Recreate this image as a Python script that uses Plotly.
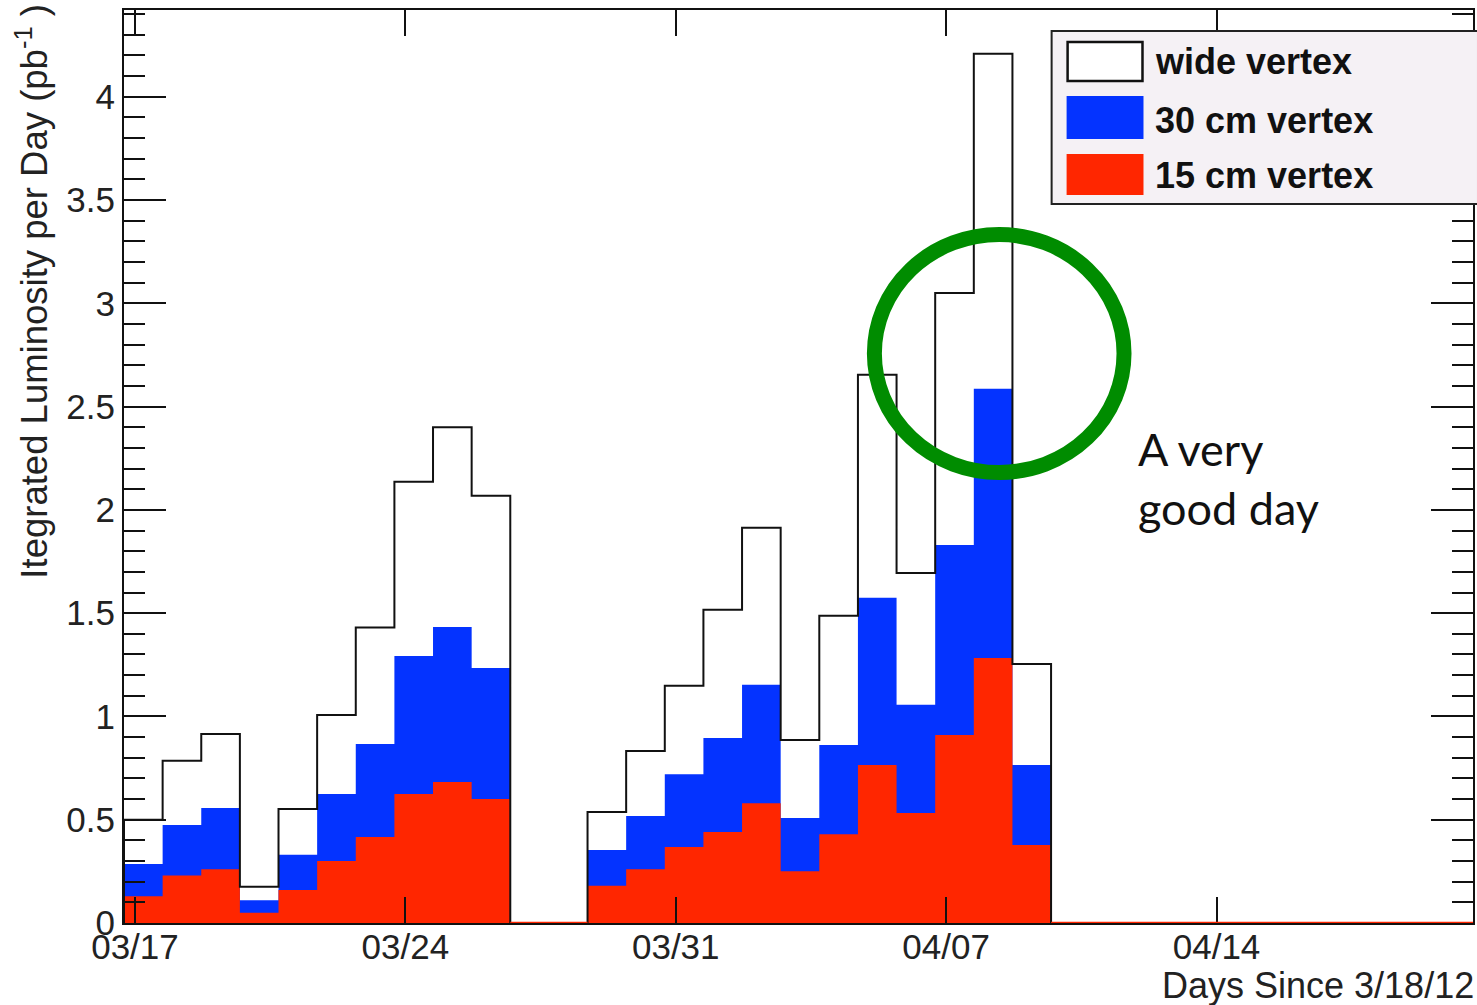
import pandas as pd
import plotly.graph_objects as go

# Daily integrated luminosity (pb^-1), one bin per day starting 03/16 17:11
bin_start = "2012-03-16 17:11"
wide_vertex = [0.50, 0.785, 0.915, 0.175, 0.552, 1.007, 1.43, 2.136, 2.40, 2.068,
               0.0, 0.0, 0.537, 0.833, 1.148, 1.516, 1.913, 0.886, 1.487, 2.654,
               1.695, 3.05, 4.208, 1.254]
vertex_30cm = [0.286, 0.475, 0.557, 0.11, 0.33, 0.625, 0.867, 1.293, 1.433, 1.235,
               0.0, 0.0, 0.353, 0.518, 0.72, 0.896, 1.153, 0.508, 0.862, 1.574,
               1.056, 1.83, 2.586, 0.765]
vertex_15cm = [0.13, 0.23, 0.26, 0.05, 0.16, 0.30, 0.416, 0.625, 0.683, 0.60,
               0.0, 0.0, 0.18, 0.26, 0.368, 0.44, 0.58, 0.25, 0.43, 0.765,
               0.533, 0.91, 1.283, 0.378]
n_empty_tail = 11  # empty days after the last filled bin

tick_dates = ["2012-03-17", "2012-03-24", "2012-03-31", "2012-04-07", "2012-04-14"]
tick_labels = ["03/17", "03/24", "03/31", "04/07", "04/14"]
y_ticks = [0, 0.5, 1, 1.5, 2, 2.5, 3, 3.5, 4]

x_range = ["2012-03-16 17:11", "2012-04-20 15:20"]
y_range = [0, 4.42]

WIDE_LINE = "#111111"
BLUE = "#0433ff"
RED = "#ff2600"
GREEN = "#008c00"
FONT = "Liberation Sans, Arial, sans-serif"

wide = wide_vertex + [0.0] * n_empty_tail
blue = vertex_30cm + [0.0] * n_empty_tail
red = vertex_15cm + [0.0] * n_empty_tail
edges = pd.date_range(bin_start, periods=len(wide) + 1, freq="D")


def step(values):
    """Histogram outline: left edges plus the final right edge, held at the last value."""
    n = len(values)
    return list(edges[:n + 1]), list(values) + [values[-1]]


fig = go.Figure()

# filled histograms (blue under red)
for vals, col in [(blue, BLUE), (red, RED)]:
    xs, ys = step(vals)
    fig.add_trace(go.Scatter(x=xs, y=ys, mode="lines", line=dict(shape="hv", width=0, color=col),
                             fill="tozeroy", fillcolor=col, showlegend=False, hoverinfo="skip"))

# wide vertex outline drawn on top
n_filled = len(wide_vertex)
xs, ys = step(wide_vertex)
xs = [edges[0]] + xs + [edges[n_filled]]
ys = [0.0] + ys + [0.0]
fig.add_trace(go.Scatter(x=xs, y=ys, mode="lines", line=dict(shape="hv", width=2, color=WIDE_LINE),
                         showlegend=False, hoverinfo="skip"))

shapes = []
# red histogram baseline wherever the 15 cm bins are empty
i = 0
while i < len(red):
    if red[i] == 0:
        j = i
        while j < len(red) and red[j] == 0:
            j += 1
        shapes.append(dict(type="line", xref="x", yref="y", x0=edges[i], x1=edges[j], y0=0, y1=0,
                           line=dict(color=RED, width=2.5), layer="above"))
        i = j
    else:
        i += 1

L, T, W, H = 124, 10, 1351, 913


def px(x):
    return (x - L) / W


def py(y):
    return (T + H - y) / H


# legend panel
shapes.append(dict(type="rect", xref="paper", yref="paper", x0=px(1053), x1=px(1480), y0=py(204), y1=py(31),
                   fillcolor="#f5f1f5", line=dict(color="#222222", width=2), layer="above"))
shapes.append(dict(type="rect", xref="paper", yref="paper", x0=px(1069), x1=px(1144), y0=py(81), y1=py(42),
                   fillcolor="white", line=dict(color="#111111", width=2.5), layer="above"))
shapes.append(dict(type="rect", xref="paper", yref="paper", x0=px(1068), x1=px(1145), y0=py(139), y1=py(96),
                   fillcolor=BLUE, line=dict(width=0), layer="above"))
shapes.append(dict(type="rect", xref="paper", yref="paper", x0=px(1068), x1=px(1145), y0=py(195), y1=py(154),
                   fillcolor=RED, line=dict(width=0), layer="above"))

# highlight ring
shapes.append(dict(type="circle", xref="paper", yref="paper", x0=px(875.5), x1=px(1125.5),
                   y0=py(472.5), y1=py(234.5), line=dict(color=GREEN, width=15), layer="above"))

annotations = []
for label, yc in [("wide vertex", 62), ("30 cm vertex", 120), ("15 cm vertex", 176)]:
    annotations.append(dict(text=f"<b>{label}</b>", xref="paper", yref="paper", x=px(1155), y=py(yc),
                            xanchor="left", yanchor="middle", showarrow=False,
                            font=dict(family=FONT, size=36, color="#111111")))

annotations.append(dict(text="A very<br>good day", xref="paper", yref="paper", x=px(1138), y=py(478),
                        xanchor="left", yanchor="middle", align="left", showarrow=False,
                        font=dict(family="Lato, Noto Sans, sans-serif", size=45, color="#111111")))

annotations.append(dict(text="Itegrated Luminosity per Day (pb<sup>-1</sup> )", xref="paper", yref="paper",
                        x=px(32), y=py(2), xanchor="center", yanchor="top", textangle=-90,
                        showarrow=False, font=dict(family=FONT, size=36.5, color="#222222")))

annotations.append(dict(text="Days Since 3/18/12", xref="paper", yref="paper", x=px(1478), y=py(986),
                        xanchor="right", yanchor="middle", showarrow=False,
                        font=dict(family=FONT, size=36, color="#222222")))

fig.update_layout(
    width=1477, height=1005,
    margin=dict(l=L, r=1477 - L - W, t=T, b=1005 - T - H),
    plot_bgcolor="white", paper_bgcolor="white",
    showlegend=False,
    shapes=shapes, annotations=annotations,
    font=dict(family=FONT, color="#222222"),
)

fig.update_xaxes(
    type="date", range=x_range, tickvals=tick_dates, ticktext=tick_labels,
    ticks="inside", ticklen=26, tickwidth=2, tickcolor="#111111",
    showline=True, linewidth=2, linecolor="#111111", mirror="ticks",
    showgrid=False, zeroline=False, tickfont=dict(size=35, color="#222222"),
    ticklabelstandoff=-8,
)
fig.update_yaxes(
    range=y_range, tickvals=y_ticks,
    ticks="inside", ticklen=42, tickwidth=2, tickcolor="#111111",
    minor=dict(dtick=0.1, ticks="inside", ticklen=21, tickwidth=2, tickcolor="#111111", showgrid=False),
    showline=True, linewidth=2, linecolor="#111111", mirror="ticks",
    showgrid=False, zeroline=False, tickfont=dict(size=35, color="#222222"),
    ticklabelstandoff=0,
)

fig.write_html("out.html")
